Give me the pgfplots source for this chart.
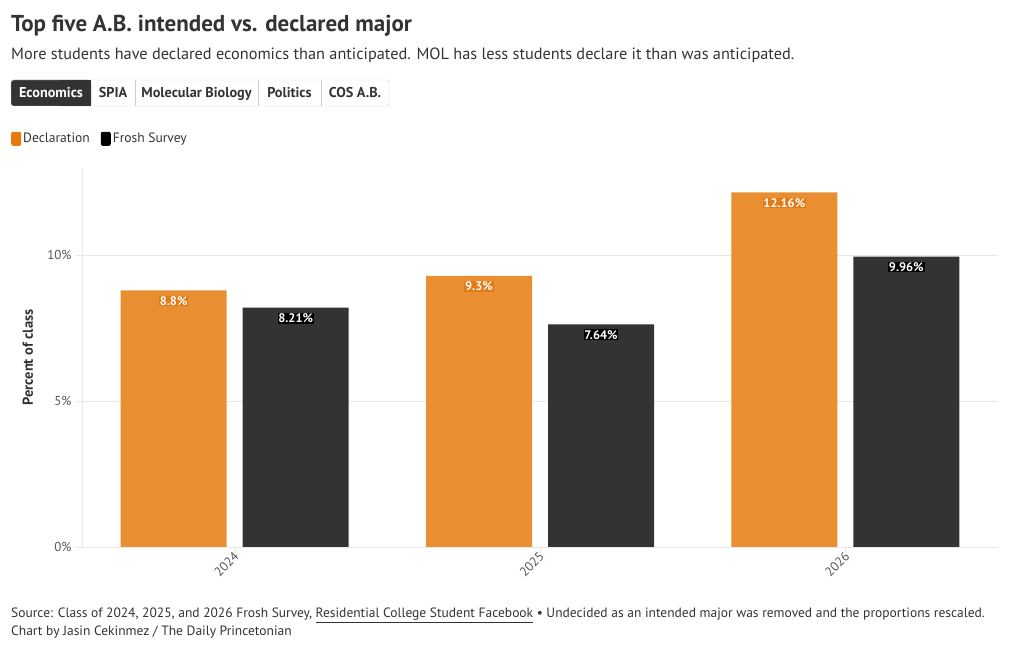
\documentclass[border=0pt]{standalone}
\usepackage{pgfplots}
\pgfplotsset{compat=1.18}
\usepackage{fontspec}
\setmainfont{PT Sans}
\definecolor{txt}{HTML}{333333}
\definecolor{bor}{HTML}{E98F31}
\definecolor{orleg}{HTML}{E8790D}
\definecolor{orhalo}{HTML}{E27A17}
\definecolor{darkbar}{HTML}{333333}
\definecolor{gridc}{HTML}{E8E8E8}
\definecolor{tickc}{HTML}{555555}
\definecolor{btnb}{HTML}{CCCCCC}
\begin{document}
\begin{tikzpicture}[x=1bp,y=1bp]
\path[use as bounding box] (0,0) rectangle (1020,650);
% title and subtitle
\node[anchor=base west, inner sep=0, text=txt, font=\fontsize{23.1}{27}\selectfont\bfseries] at (11,618) {Top five A.B. intended vs. declared major};
\node[anchor=base west, inner sep=0, text=txt, font=\fontsize{16.35}{19}\selectfont] at (11,590) {More students have declared economics than anticipated. MOL has less students declare it than was anticipated.};
% buttons
\fill[txt, rounded corners=2.5] (11,544) rectangle (91,570);
\draw[btnb, rounded corners=2.5] (11,544) rectangle (389,570);
\fill[txt] (60,544) rectangle (91,570);
\foreach \xx in {135,258,321} {\draw[btnb] (\xx,544) -- (\xx,570);}
\begin{scope}[every node/.style={anchor=base, inner sep=0, font=\fontsize{14.3}{16}\selectfont\bfseries}]
\node[text=white] at (51,552) {Economics};
\node[text=txt] at (113,552) {SPIA};
\node[text=txt] at (196.5,552) {Molecular Biology};
\node[text=txt] at (289.5,552) {Politics};
\node[text=txt] at (355,552) {COS A.B.};
\end{scope}
% footer
\node[anchor=base west, inner sep=0, text=txt, font=\fontsize{13.55}{15}\selectfont] at (11,32) {Source: Class of 2024, 2025, and 2026 Frosh Survey, \underline{Residential College Student Facebook} • Undecided as an intended major was removed and the proportions rescaled.};
\node[anchor=base west, inner sep=0, text=txt, font=\fontsize{13.55}{15}\selectfont] at (11,14) {Chart by Jasin Cekinmez / The Daily Princetonian};
\begin{axis}[
  at={(82bp,103bp)}, anchor=south west,
  scale only axis, width=916bp, height=379bp,
  xmin=-0.5, xmax=2.5, ymin=0, ymax=13,
  ybar=16bp, bar width=106bp,
  axis x line*=bottom, axis y line*=left,
  axis line style={draw=gridc, -},
  xtick={0,1,2}, xticklabels={2024,2025,2026},
  ytick={0,5,10},
  ymajorgrids, grid style={gridc},
  tick style={draw=gridc}, tick align=outside, major tick length=6bp,
  /pgf/number format/assume math mode=true,
  yticklabel={\pgfmathprintnumber{\tick}\%},
  yticklabel style={font=\fontsize{13}{15}\selectfont, text=tickc, xshift=-1bp},
  xticklabel style={font=\fontsize{13}{15}\selectfont, text=tickc, rotate=45, anchor=east, xshift=4bp, yshift=-2bp},
  ylabel={Percent of class},
  every axis y label/.style={at={(axis description cs:-0.059,0.5)}, rotate=90, anchor=center, font=\fontsize{14.5}{16}\selectfont\bfseries, text=txt},
  nodes near coords={\pgfmathprintnumber[fixed,precision=2]{\pgfplotspointmeta}\%},
  nodes near coords style={anchor=north, yshift=-5bp, inner sep=0.8bp, text=white, font=\fontsize{12.5}{14}\selectfont\bfseries},
  legend style={at={(axis description cs:-0.0775,1.077)}, anchor=west, draw=none, fill=none, legend columns=-1, font=\fontsize{13.6}{15}\selectfont, text=txt, inner sep=0pt, /tikz/every even column/.append style={column sep=9bp}},
  legend cell align=left,
]
\addplot[fill=bor, draw=none, every node near coord/.append style={fill=orhalo},
  legend image code/.code={\fill[orleg, rounded corners=2bp] (0bp,-7bp) rectangle (10bp,7bp);}]
  coordinates {(0,8.8) (1,9.3) (2,12.16)};
\addlegendentry{Declaration}
\addplot[fill=darkbar, draw=none, every node near coord/.append style={fill=black},
  legend image code/.code={\fill[black, rounded corners=2bp] (0bp,-7bp) rectangle (10bp,7bp);}]
  coordinates {(0,8.21) (1,7.64) (2,9.96)};
\addlegendentry{Frosh Survey}
\end{axis}
\end{tikzpicture}
\end{document}
